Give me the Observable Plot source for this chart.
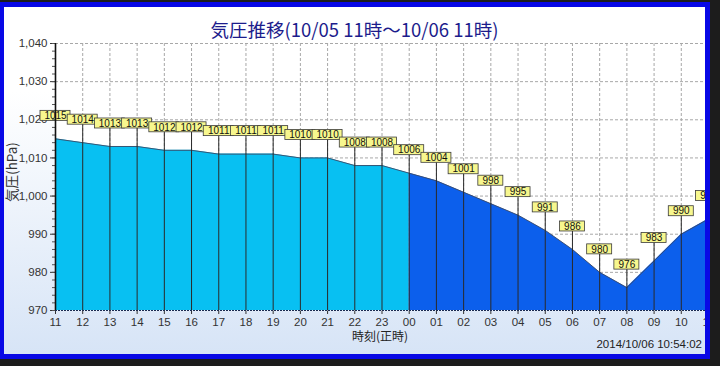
<!DOCTYPE html>
<html>
<head>
<meta charset="utf-8">
<script src="https://cdn.jsdelivr.net/npm/d3@7"></script>
<script src="https://cdn.jsdelivr.net/npm/@observablehq/plot@0.6"></script>
<style>
  html, body { margin: 0; padding: 0; background: #1c1c1c; }
  #wrap { position: relative; width: 720px; height: 366px; overflow: hidden;
          background: linear-gradient(to bottom, #ffffff 0%, #ffffff 25%, #d5e3f6 100%); }
  #chart { position: absolute; left: 0; top: 0; }
  .txt { position: absolute; white-space: nowrap; }
  #title { left: 4px; width: 701px; top: 16px; text-align: center;
           font-family: "Noto Sans CJK JP", sans-serif; font-size: 18.5px; color: #1c1c8c; }
  #ylab { left: 11px; top: 172px; transform: translate(-50%, -50%) rotate(-90deg);
          font-family: "Noto Sans CJK JP", sans-serif; font-size: 13.5px; color: #333; }
  #xlab { left: 380px; top: 335px; transform: translate(-50%, -50%);
          font-family: "Noto Sans CJK JP", sans-serif; font-size: 12px; color: #222; }
  #stamp { right: 18px; top: 344px; transform: translateY(-50%);
           font-family: "Liberation Sans", Arial, sans-serif; font-size: 11.5px; color: #222; }
  #frame { position: absolute; left: 0; top: 2px; width: 710px; height: 357px; box-sizing: border-box;
           border-style: solid; border-color: #0808e6; border-width: 5px 5px 5px 4px;
           box-shadow: 0 0 0 60px #1c1c1c; pointer-events: none; }
</style>
</head>
<body>
<div id="wrap">
  <div id="chart"></div>
  <div id="title" class="txt">気圧推移(10/05 11時～10/06 11時)</div>
  <div id="ylab" class="txt">気圧(hPa)</div>
  <div id="xlab" class="txt">時刻(正時)</div>
  <div id="stamp" class="txt">2014/10/06 10:54:02</div>
  <div id="frame"></div>
</div>
<script>
// ---- data ----
const hours = ["11","12","13","14","15","16","17","18","19","20","21","22","23",
               "00","01","02","03","04","05","06","07","08","09","10","11"];
const pressure = [1015,1014,1013,1013,1012,1012,1011,1011,1011,1010,1010,1008,1008,
                  1006,1004,1001,998,995,991,986,980,976,983,990,994];
const dayOneCount = 14;          // 11時 .. 00時 (light blue part, inclusive of 00)
const yTicks = [970,980,990,1000,1010,1020,1030,1040];
const yMinorTicks = d3.range(970, 1041, 2);

const data = pressure.map((v, i) => ({i, v, label: String(v)}));
const part1 = data.slice(0, dayOneCount);
const part2 = data.slice(dayOneCount - 1);
const wide = data.filter(d => d.label.length >= 4);
const narrow = data.filter(d => d.label.length < 4);

const yMin = yTicks[0];
const boxStyle = {fill: "#f7f78e", stroke: "#3a3a3a", strokeWidth: 0.8, insetTop: -28, insetBottom: 18};

const plot = Plot.plot({
  width: 720,
  height: 366,
  marginLeft: 55,
  marginRight: 12,
  marginTop: 43,
  marginBottom: 56,
  style: {background: "transparent", fontFamily: "'Liberation Sans', Arial, sans-serif", fontSize: "11.5px", color: "#333"},
  x: {domain: [0, hours.length - 1], ticks: d3.range(hours.length), tickFormat: i => hours[i],
      tickSize: 4, tickPadding: 3, label: null},
  y: {domain: [yMin, yTicks[yTicks.length - 1]], ticks: yTicks, tickFormat: d3.format(","),
      tickSize: 5, tickPadding: 3, label: null},
  marks: [
    Plot.frame({fill: "white", stroke: null}),
    Plot.ruleY(yTicks.slice(1), {stroke: "#a8a8a8", strokeDasharray: "3,2", strokeWidth: 1}),
    Plot.ruleX(d3.range(1, hours.length), {stroke: "#a8a8a8", strokeDasharray: "3,2", strokeWidth: 1}),
    Plot.areaY(part1, {x: "i", y1: yMin, y2: "v", fill: "#08c0f2"}),
    Plot.areaY(part2, {x: "i", y1: yMin, y2: "v", fill: "#0c5fec"}),
    Plot.line(data, {x: "i", y: "v", stroke: "#3b4a66", strokeWidth: 0.9}),
    Plot.ruleX(data, {x: "i", y1: "v", y2: yMin, stroke: "#2a2a2a", strokeWidth: 1, insetTop: -18}),
    Plot.rect(wide, {x1: "i", x2: "i", y1: "v", y2: "v", insetLeft: -15, insetRight: -15, ...boxStyle}),
    Plot.rect(narrow, {x1: "i", x2: "i", y1: "v", y2: "v", insetLeft: -12.5, insetRight: -12.5, ...boxStyle}),
    Plot.text(data, {x: "i", y: "v", text: "label", dy: -23, fontSize: 10, fill: "#111"}),
    Plot.ruleY(yMinorTicks, {x1: 0, x2: 0, insetLeft: -3, stroke: "#555"}),
    Plot.ruleX([0], {stroke: "#111", strokeWidth: 1.6}),
    Plot.ruleY([yMin], {stroke: "#1a2a50", strokeDasharray: "2,1", strokeWidth: 1.2})
  ]
});
document.getElementById("chart").append(plot);
</script>
</body>
</html>
